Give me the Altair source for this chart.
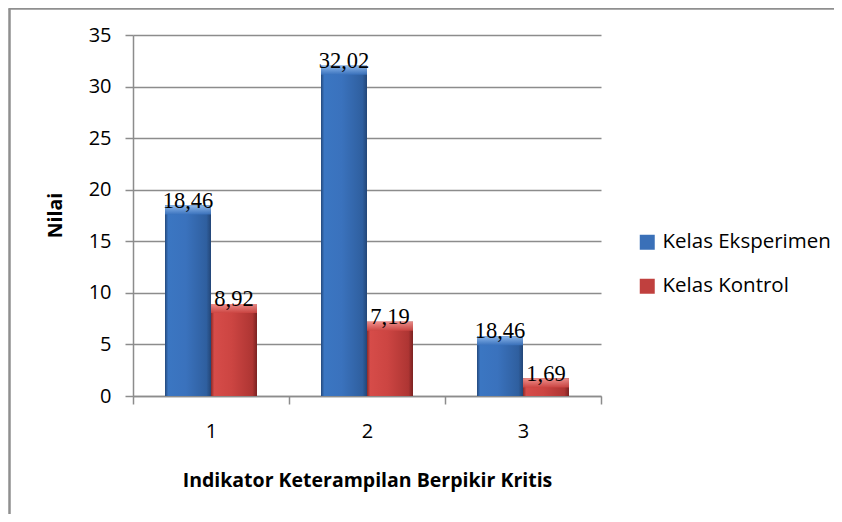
import altair as alt
import pandas as pd

categories = ["1", "2", "3"]
series = ["Kelas Eksperimen", "Kelas Kontrol"]
eksperimen = [18.46, 32.02, 5.8]
kontrol = [8.92, 7.19, 1.69]
labels_eksperimen = ["18,46", "32,02", "18,46"]
labels_kontrol = ["8,92", "7,19", "1,69"]

rows = []
for i, c in enumerate(categories):
    rows.append({"cat": c, "series": series[0], "value": eksperimen[i], "label": labels_eksperimen[i]})
    rows.append({"cat": c, "series": series[1], "value": kontrol[i], "label": labels_kontrol[i]})
df = pd.DataFrame(rows)

SANS = "Open Sans"
GRID = "#8c8c8c"

base = alt.Chart(df).encode(
    x=alt.X(
        "cat:N",
        sort=categories,
        scale=alt.Scale(paddingInner=0, paddingOuter=0),
        axis=alt.Axis(
            title="Indikator Keterampilan Berpikir Kritis",
            titleFont=SANS, titleFontSize=19.5, titleFontWeight="bold", titleColor="black",
            titleX=234, titleY=84, titleBaseline="middle", titleAlign="center",
            labelFont=SANS, labelFontSize=20, labelColor="black", labelAngle=0,
            labelPadding=17, tickBand="extent", tickSize=8, tickColor=GRID, tickWidth=1.5,
            domainColor=GRID, domainWidth=1.5, grid=False,
        ),
    ),
    xOffset=alt.XOffset("series:N", scale=alt.Scale(domain=series, paddingInner=0, paddingOuter=0.696)),
    y=alt.Y(
        "value:Q",
        scale=alt.Scale(domain=[0, 35], nice=False),
        axis=alt.Axis(
            title="Nilai", titleFont=SANS, titleFontSize=19.5, titleFontWeight="bold", titleColor="black",
            titleX=-78, titleY=180, titleAngle=-90, titleBaseline="middle", titleAlign="center",
            values=[0, 5, 10, 15, 20, 25, 30, 35],
            labelFont=SANS, labelFontSize=20, labelColor="black", labelPadding=14,
            tickSize=8, tickColor=GRID, tickWidth=1.5,
            domainColor=GRID, domainWidth=1.5,
            grid=True, gridColor=GRID, gridWidth=1.5,
        ),
    ),
)

legend_bars = base.mark_bar().encode(
    color=alt.Color(
        "series:N",
        scale=alt.Scale(domain=series, range=["#3a70b8", "#c0403e"]),
        legend=alt.Legend(
            orient="none", legendX=504, legendY=197, title=None,
            labelFont=SANS, labelFontSize=20.5, labelColor="black", labelLimit=400,
            symbolType="square", symbolSize=225, symbolStrokeWidth=0,
            rowPadding=23, labelOffset=5,
        ),
    )
)

blue_grad = alt.Gradient(
    gradient="linear", x1=0, x2=1, y1=0, y2=0,
    stops=[
        alt.GradientStop(offset=0, color="#24497c"),
        alt.GradientStop(offset=0.07, color="#3b76c2"),
        alt.GradientStop(offset=0.45, color="#3a72bd"),
        alt.GradientStop(offset=0.9, color="#2f5f9f"),
        alt.GradientStop(offset=1, color="#234677"),
    ],
)
red_grad = alt.Gradient(
    gradient="linear", x1=0, x2=1, y1=0, y2=0,
    stops=[
        alt.GradientStop(offset=0, color="#8a2a28"),
        alt.GradientStop(offset=0.07, color="#d64c49"),
        alt.GradientStop(offset=0.45, color="#cc4542"),
        alt.GradientStop(offset=0.9, color="#ae3533"),
        alt.GradientStop(offset=1, color="#7a2221"),
    ],
)
blue_top = alt.Gradient(
    gradient="linear", x1=0, x2=0, y1=0, y2=1,
    stops=[alt.GradientStop(offset=0, color="#9cc4f4"), alt.GradientStop(offset=1, color="#3a72bd")],
)
red_top = alt.Gradient(
    gradient="linear", x1=0, x2=0, y1=0, y2=1,
    stops=[alt.GradientStop(offset=0, color="#f49a96"), alt.GradientStop(offset=1, color="#cc4542")],
)

b1 = base.transform_filter(alt.datum.series == series[0]).mark_bar(color=blue_grad)
b2 = base.transform_filter(alt.datum.series == series[1]).mark_bar(color=red_grad)
t1 = base.transform_filter(alt.datum.series == series[0]).mark_bar(color=blue_top, y2Offset=9, opacity=0.85).encode(y2=alt.Y2("value:Q"))
t2 = base.transform_filter(alt.datum.series == series[1]).mark_bar(color=red_top, y2Offset=9, opacity=0.85).encode(y2=alt.Y2("value:Q"))

labels = base.mark_text(
    font="Liberation Serif", fontSize=22.5, baseline="alphabetic", dy=2, color="black"
).encode(text="label:N")

frame_df = pd.DataFrame({"k": [0]})
left_border = alt.Chart(frame_df).mark_rule(color="#8f8f8f", strokeWidth=2.5).encode(
    x=alt.value(-123.5), y=alt.value(-26.5), y2=alt.value(480)
)
top_border = alt.Chart(frame_df).mark_rule(color="#8f8f8f", strokeWidth=2.5).encode(
    x=alt.value(-124.5), x2=alt.value(710), y=alt.value(-26.5)
)

chart = alt.layer(legend_bars, b1, b2, t1, t2, labels, left_border, top_border).properties(
    width=468, height=361,
    autosize=alt.AutoSizeParams(type="none"),
    padding={"left": 125, "top": 27, "right": 233, "bottom": 118},
).configure_view(stroke=None)

chart.save("out.html", embed_options={"renderer": "svg", "actions": False})
